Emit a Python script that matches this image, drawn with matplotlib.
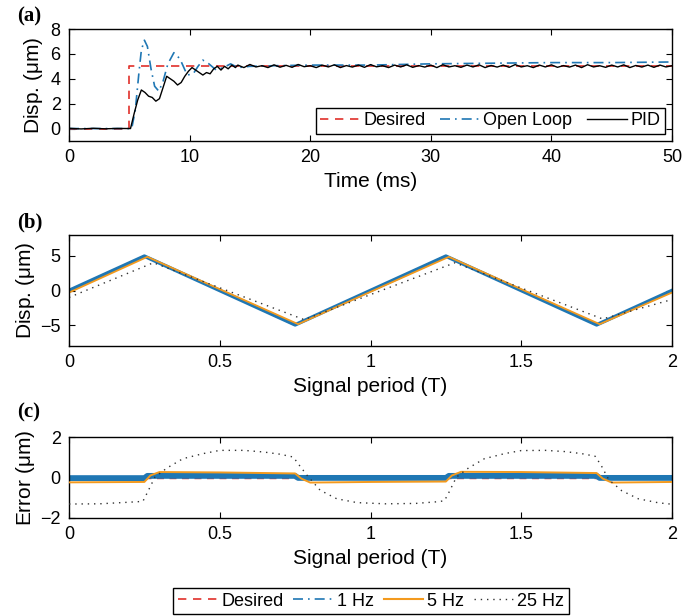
import numpy as np
import matplotlib.pyplot as plt
from matplotlib.lines import Line2D

plt.rcParams['font.family'] = ['Liberation Sans', 'DejaVu Sans']
plt.rcParams['mathtext.fontset'] = 'custom'
plt.rcParams['mathtext.rm'] = 'Liberation Sans'
plt.rcParams['mathtext.it'] = 'Liberation Sans'

# Colours (MATLAB-like)
c_red = '#E0302A'
c_blue = '#1F77B4'
c_orange = '#F39A1E'
c_dot = '#333333'

# ---- (a) step response ----
des_t = [0, 5.0, 5.0, 50]
des_v = [0, 0, 5, 5]

ol_t = [0, 5.2, 5.5, 5.8, 6.0, 6.25, 6.5, 6.8, 7.1, 7.45, 7.8, 8.2, 8.7, 9.2, 9.8,
        10.3, 10.7, 11.1, 11.6, 12.2, 12.8, 13.4, 14.0, 15, 17, 20, 25, 30, 35, 40, 45, 50]
ol_v = [0, 0, 1.5, 4.5, 6.3, 7.1, 6.6, 4.8, 3.4, 3.0, 3.8, 5.2, 6.1, 5.6, 4.3,
        4.4, 5.0, 5.5, 5.2, 4.7, 4.9, 5.2, 4.9, 5.0, 5.05, 5.1, 5.1, 5.2, 5.25, 5.3, 5.3, 5.35]

pid_t_early = [0, 1, 2, 3, 4, 5.1, 5.4, 5.7, 6.0, 6.3, 6.6, 6.9, 7.2, 7.5, 7.8, 8.1, 8.4,
               8.7, 9.0, 9.3, 9.6, 9.9, 10.2, 10.5, 10.8, 11.1, 11.4, 11.7, 12.0, 12.3,
               12.6, 12.9, 13.2, 13.5, 13.8]
pid_v_early = [0.02, -0.03, 0.02, -0.02, 0.01, 0, 1.2, 2.3, 3.1, 2.9, 2.6, 2.5, 2.2, 2.4,
               3.3, 4.2, 4.0, 3.8, 3.5, 3.7, 4.2, 4.6, 4.9, 4.7, 4.5, 4.3, 4.5, 4.4, 4.8,
               5.0, 4.7, 5.0, 4.8, 5.1, 4.9]
pid_t_late = list(np.arange(14.0, 50.01, 0.5))
pid_v_late = [5.1, 4.9, 5.15, 4.95, 5.05, 4.9, 5.12, 4.93, 5.08, 4.92, 5.15, 4.97, 5.05,
              4.9, 5.1, 4.95, 5.12, 4.9, 5.06, 4.94, 5.1, 4.92, 5.14, 4.96, 5.05, 4.9,
              5.1, 4.95, 5.12, 4.92, 5.06, 4.94, 5.1, 4.9, 5.13, 4.95, 5.05, 4.92, 5.1,
              4.95, 5.12, 4.9, 5.07, 4.94, 5.1, 4.92, 5.14, 4.95, 5.05, 4.9, 5.1, 4.95,
              5.12, 4.92, 5.06, 4.94, 5.1, 4.9, 5.13, 4.95, 5.05, 4.92, 5.1, 4.95, 5.12,
              4.9, 5.07, 4.94, 5.1, 4.92, 5.1, 4.95, 5.05]

# ---- (b) triangle tracking ----
tri_t = [0, 0.25, 0.75, 1.25, 1.75, 2.0]
tri_des = [0, 5, -5, 5, -5, 0]
hz1_t = [0, 0.25, 0.75, 1.25, 1.75, 2.0]
hz1_v = [0, 4.95, -4.95, 4.95, -4.95, 0]
hz5_t = [0, 0.26, 0.76, 1.26, 1.76, 2.0]
hz5_v = [-0.3, 4.85, -4.85, 4.85, -4.85, -0.3]
hz25_t = [0, 0.28, 0.78, 1.28, 1.77, 2.0]
hz25_v = [-1.0, 4.0, -4.2, 4.0, -4.1, -1.3]

# ---- (c) tracking error ----
e_des_t = [0, 2]
e_des_v = [0, 0]
e1_t = [0, 0.25, 0.26, 0.75, 0.76, 1.25, 1.26, 1.75, 1.76, 2.0]
e1_v = [-0.03, -0.03, 0.08, 0.08, -0.02, -0.02, 0.08, 0.08, -0.02, -0.02]
e5_t = [0, 0.25, 0.27, 0.30, 0.5, 0.75, 0.77, 0.80, 1.0, 1.25, 1.27, 1.30, 1.5, 1.75,
        1.77, 1.80, 2.0]
e5_v = [-0.24, -0.22, 0.1, 0.27, 0.25, 0.2, -0.05, -0.25, -0.22, -0.2, 0.1, 0.28,
        0.27, 0.22, -0.05, -0.25, -0.22]
e25_t = [0, 0.1, 0.2, 0.245, 0.258, 0.285, 0.325, 0.378, 0.445, 0.5, 0.58, 0.645, 0.7,
         0.744, 0.76, 0.79, 0.833, 0.888, 0.955, 1.05, 1.15, 1.22, 1.245, 1.258, 1.285,
         1.325, 1.378, 1.445, 1.5, 1.58, 1.645, 1.7, 1.745, 1.765, 1.79, 1.833, 1.888,
         1.955, 2.0]
e25_v = [-1.31, -1.3, -1.22, -1.18, -0.8, 0.02, 0.47, 0.93, 1.18, 1.34, 1.34, 1.26, 1.15,
         1.01, 0.68, 0.1, -0.63, -1.05, -1.24, -1.3, -1.28, -1.2, -1.15, -0.8, 0.02,
         0.47, 0.93, 1.18, 1.33, 1.34, 1.28, 1.18, 1.05, 0.6, -0.1, -0.65, -1.05,
         -1.25, -1.32]

fig = plt.figure(figsize=(6.83, 6.16), dpi=100)
W, H = 683, 616


def box(x0, y0, x1, y1):
    return [x0 / W, 1 - y1 / H, (x1 - x0) / W, (y1 - y0) / H]


ax_a = fig.add_axes(box(69, 29, 672, 141))
ax_b = fig.add_axes(box(69, 235, 672, 346))
ax_c = fig.add_axes(box(69, 437, 672, 518))

tick_fs = 13
lab_fs = 15
dots = (0, (1, 3.5))
dashdot = (0, (6, 3, 1, 3))
dashed = (0, (5, 4))
leg_kw = dict(fontsize=13, frameon=True, fancybox=False, edgecolor='black',
              framealpha=1, handlelength=2.2, handletextpad=0.2, borderpad=0.25)

for ax in (ax_a, ax_b, ax_c):
    ax.tick_params(direction='in', top=True, right=True, labelsize=tick_fs,
                   length=4, width=0.8, pad=6)
    for s in ax.spines.values():
        s.set_linewidth(1.0)

# (a)
ax_a.plot(des_t, des_v, color=c_red, ls=dashed, lw=1.2, label='Desired')
ax_a.plot(ol_t, ol_v, color=c_blue, ls=dashdot, lw=1.2, label='Open Loop')
ax_a.plot(pid_t_early + pid_t_late, pid_v_early + pid_v_late, color='black', lw=1.0,
          label='PID')
ax_a.set_xlim(0, 50)
ax_a.set_ylim(-1, 8)
ax_a.set_xticks([0, 10, 20, 30, 40, 50])
ax_a.set_yticks([0, 2, 4, 6, 8])
ax_a.set_xlabel('Time (ms)', fontsize=lab_fs, labelpad=4)
ax_a.set_ylabel('Disp. ($\\mu$m)', fontsize=lab_fs, labelpad=4)
ax_a.legend(loc='lower right', ncol=3, borderaxespad=0.4, columnspacing=0.8, **leg_kw)

# (b)
ax_b.plot(tri_t, tri_des, color=c_red, ls=dashed, lw=1.2)
ax_b.plot(hz1_t, hz1_v, color=c_blue, lw=2.6)
ax_b.plot(hz5_t, hz5_v, color=c_orange, lw=1.3)
ax_b.plot(hz25_t, hz25_v, color=c_dot, ls=dots, lw=1.0)
ax_b.set_xlim(0, 2)
ax_b.set_ylim(-8, 8)
ax_b.set_xticks([0, 0.5, 1, 1.5, 2])
ax_b.set_xticklabels(['0', '0.5', '1', '1.5', '2'])
ax_b.set_yticks([-5, 0, 5])
ax_b.set_yticklabels(['\u22125', '0', '5'])
ax_b.set_xlabel('Signal period (T)', fontsize=lab_fs, labelpad=4)
ax_b.set_ylabel('Disp. ($\\mu$m)', fontsize=lab_fs, labelpad=2)

# (c)
ax_c.plot(e_des_t, e_des_v, color=c_red, ls=dashed, lw=1.0, zorder=1)
ax_c.plot(e1_t, e1_v, color=c_blue, lw=4.2, zorder=2)
ax_c.plot(e5_t, e5_v, color=c_orange, lw=1.4, zorder=3)
ax_c.plot(e25_t, e25_v, color=c_dot, ls=dots, lw=1.0, zorder=4)
ax_c.set_xlim(0, 2)
ax_c.set_ylim(-2, 2)
ax_c.set_xticks([0, 0.5, 1, 1.5, 2])
ax_c.set_xticklabels(['0', '0.5', '1', '1.5', '2'])
ax_c.set_yticks([-2, 0, 2])
ax_c.set_yticklabels(['\u22122', '0', '2'])
ax_c.set_xlabel('Signal period (T)', fontsize=lab_fs, labelpad=4)
ax_c.set_ylabel('Error ($\\mu$m)', fontsize=lab_fs, labelpad=2)

handles = [Line2D([], [], color=c_red, ls=dashed, lw=1.2),
           Line2D([], [], color=c_blue, ls=dashdot, lw=1.2),
           Line2D([], [], color=c_orange, lw=1.5),
           Line2D([], [], color=c_dot, ls=dots, lw=1.0)]
fig.legend(handles, ['Desired', '1 Hz', '5 Hz', '25 Hz'], loc='center',
           bbox_to_anchor=(371 / W, 1 - 601 / H), ncol=4, columnspacing=0.55, **leg_kw)

# panel letters
for lab, y in (('(a)', 16), ('(b)', 222), ('(c)', 412)):
    fig.text(17 / W, 1 - y / H, lab, family='Liberation Serif', fontweight='bold',
             fontsize=15, va='center', ha='left')

fig.savefig('out.png', dpi=100)
